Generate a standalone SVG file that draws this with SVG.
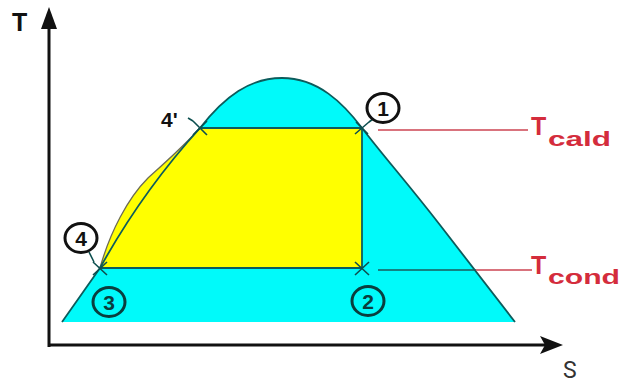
<svg xmlns="http://www.w3.org/2000/svg" width="624" height="385" viewBox="0 0 624 385">
<style>
.edge{fill:none;stroke:#0d5c5c;stroke-width:1.8;stroke-linejoin:round}
.cross{stroke:#0d4f4f;stroke-width:1.6;fill:none}
.axis{stroke:#111;stroke-width:3;fill:none}
.circ{fill:none;stroke-width:3}
.num{font-family:"Liberation Sans",Arial,sans-serif;font-weight:bold;font-size:21px;text-anchor:middle}
.red{font-family:"Liberation Sans",Arial,sans-serif;font-weight:bold;fill:#d42c3c}
.redline{stroke:#cc4452;stroke-width:1.5}
</style>
<rect width="624" height="385" fill="#ffffff"/>
<g id="dome">
<path d="M62,322 L100,268 Q142,192 200,128 C225,96 250,78 282,78 C318,78 343,103 362,128 C385,158 405,180 440,225 L515,322 Z" fill="#00fafa"/>
<path class="edge" d="M62,322 L100,268 Q142,192 200,128 C225,96 250,78 282,78 C318,78 343,103 362,128 C385,158 405,180 440,225 L515,322"/>
</g>
<g id="cycle">
<path d="M100,268 C110,232 128,198 148,178 C168,160 185,145 200,128 L362,128 L362,268 Z" fill="#ffff00"/>
<path d="M100,268 C110,232 128,198 148,178 C168,160 185,145 200,128" fill="none" stroke="#6b6b55" stroke-width="1.3"/>
<path class="edge" d="M100,268 Q142,192 200,128"/>
<path class="edge" d="M200,128 L362,128 L362,268 L100,268"/>
</g>
<g id="connectors">
<line class="redline" x1="378" y1="130" x2="528" y2="130"/>
<line x1="378" y1="270" x2="476" y2="270" stroke="#1a5a5a" stroke-width="1.6"/>
<line class="redline" x1="476" y1="270" x2="532" y2="270"/>
<path class="cross" d="M193,121 L207,135 M193,135 L207,121 M188,118 L193,121"/>
<path class="cross" d="M355,134 L369,122 M356,122 L368,134 M369,122 L373,119"/>
<path class="cross" d="M355,262 L369,275 M355,275 L369,262"/>
<path class="cross" d="M93,262 L107,275 M93,275 L107,262 M89,252 L94,262"/>
</g>
<g id="axes">
<line class="axis" x1="49" y1="347" x2="49" y2="24"/>
<polygon points="49,7 41,29 57,29" fill="#111"/>
<line class="axis" x1="48" y1="345" x2="550" y2="345"/>
<path d="M563,345 L540,336 L545,345 L540,354 Z" fill="#111"/>
<text x="12" y="31" font-family="Liberation Sans,Arial,sans-serif" font-weight="bold" font-size="25" fill="#111">T</text>
<text x="563" y="378" font-family="Roboto,Liberation Sans,sans-serif" font-size="23" fill="#333">S</text>
</g>
<g id="p1">
<ellipse class="circ" cx="383" cy="108" rx="16" ry="14.5" stroke="#111"/>
<text class="num" x="383" y="116" fill="#111">1</text>
</g>
<g id="p2">
<ellipse class="circ" cx="368" cy="301" rx="16" ry="14.5" stroke="#0a3e3e"/>
<text class="num" x="368" y="309" fill="#0a3e3e">2</text>
</g>
<g id="p3">
<ellipse class="circ" cx="109" cy="302" rx="16" ry="14.5" stroke="#0a3e3e"/>
<text class="num" x="109" y="310" fill="#0a3e3e">3</text>
</g>
<g id="p4">
<ellipse class="circ" cx="81" cy="238" rx="16" ry="14.5" stroke="#111"/>
<text class="num" x="81" y="246" fill="#111">4</text>
</g>
<g id="p4prime">
<text x="161" y="127" font-family="Liberation Sans,Arial,sans-serif" font-weight="bold" font-size="21" fill="#111">4'</text>
</g>
<g id="tcald">
<text class="red" x="531" y="135" font-size="25">T</text>
<text class="red" x="548" y="146" font-size="21" textLength="63" lengthAdjust="spacingAndGlyphs">cald</text>
</g>
<g id="tcond">
<text class="red" x="531" y="274" font-size="25">T</text>
<text class="red" x="548" y="284" font-size="21" textLength="72" lengthAdjust="spacingAndGlyphs">cond</text>
</g>
</svg>
